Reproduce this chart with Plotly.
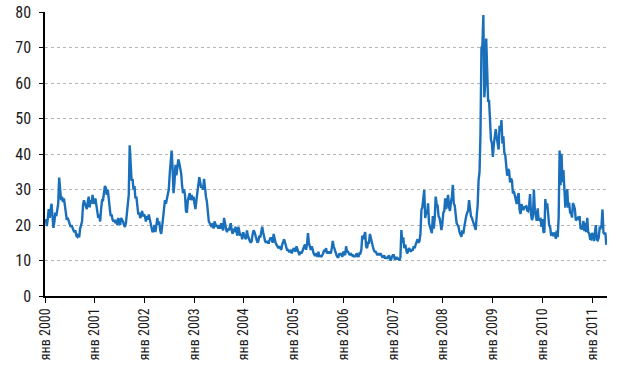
import pandas as pd
import plotly.graph_objects as go

# Weekly index values (Friday closes)
v2000 = [21.7, 19.7, 21.5, 24.5,
         22.0, 24.8, 26.0, 22.5,
         19.2, 21.0, 23.5, 22.5, 24.5,
         26.0, 33.4, 30.5, 27.0,
         28.0, 26.5, 27.5, 25.0,
         23.0, 21.5, 22.0, 21.0, 20.5,
         19.5, 20.0, 19.0, 18.5,
         18.0, 18.5, 17.0, 16.7,
         17.5, 16.5, 19.0, 20.5,
         21.0, 25.5, 27.0, 26.0, 25.0,
         24.5, 26.5, 28.0, 25.0,
         27.0, 26.0, 28.5, 26.5, 26.0]
v2001 = [27.5, 26.0, 23.5, 22.0,
         23.0, 21.0, 24.5, 27.0,
         27.0, 29.0, 31.0, 30.5, 28.5,
         30.0, 26.0, 25.0, 22.5,
         23.0, 21.5, 21.0, 21.5,
         20.5, 21.5, 20.0, 22.0, 21.0,
         20.0, 22.0, 21.5, 21.0,
         20.0, 19.5, 20.5, 23.0, 25.0,
         28.5, 42.5, 34.5,
         32.5, 33.0, 30.0, 31.0, 27.5,
         28.0, 25.0, 23.0, 23.5,
         22.0, 22.5, 24.0, 22.5, 23.0]
v2002 = [22.5, 21.0, 22.5, 21.5,
         23.0, 21.5, 20.0, 19.0,
         18.0, 18.5, 20.0, 18.0, 19.5,
         22.0, 20.0, 21.0, 18.5,
         17.5, 19.5, 22.0, 25.0, 27.0,
         26.0, 27.5, 28.0, 30.0,
         34.5, 37.0, 41.0, 36.0,
         29.0, 32.0, 37.0, 34.0, 36.0,
         38.5, 37.5, 36.0, 34.5,
         31.0, 29.0, 30.0, 28.5,
         24.0, 23.5, 27.0, 28.0, 29.0,
         27.0, 28.5, 27.0, 28.0]
v2003 = [26.0, 24.5, 27.0, 29.0, 31.0,
         33.5, 32.0, 30.5, 31.0,
         30.0, 33.0, 29.5, 28.0,
         26.5, 22.0, 21.0, 20.5,
         20.0, 19.5, 20.5, 19.0, 21.0,
         20.0, 19.5, 20.0, 19.0,
         20.0, 19.0, 20.5, 19.5,
         18.5, 22.0, 20.0, 19.0, 18.0,
         19.0, 18.5, 19.5, 20.5,
         18.5, 17.5, 19.0, 18.0, 19.5,
         18.0, 17.0, 19.5, 17.5,
         17.0, 17.5, 16.0, 18.0]
v2004 = [17.0, 16.5, 16.0, 18.5, 17.0,
         16.0, 15.5, 15.0, 15.5,
         17.5, 18.5, 18.0, 17.0,
         16.5, 15.0, 15.5, 17.0, 16.5,
         18.5, 19.5, 18.0, 16.0,
         15.5, 15.0, 15.5, 15.0,
         15.0, 16.0, 16.5, 16.0, 15.0,
         17.5, 16.0, 15.0, 14.5,
         14.0, 13.5, 14.0, 13.5,
         13.0, 14.5, 15.5, 16.0, 15.0,
         13.5, 13.0, 13.0, 12.5,
         12.5, 13.0, 12.0, 13.0, 13.5]
v2005 = [13.0, 12.5, 14.0, 13.0,
         12.0, 11.5, 12.5, 12.0,
         12.5, 13.5, 14.0, 14.5,
         13.0, 14.5, 17.7, 15.0, 14.0,
         13.0, 14.0, 12.5, 12.0,
         11.5, 11.5, 12.0, 11.0,
         12.5, 11.0, 11.5, 11.0, 11.5,
         12.0, 13.0, 12.5, 13.5,
         12.0, 12.5, 12.0, 12.5, 12.0,
         13.5, 15.5, 14.0, 13.0,
         12.5, 11.5, 11.0, 11.0,
         12.0, 11.5, 12.0, 11.0, 12.5]
v2006 = [12.0, 11.5, 14.0, 12.5,
         12.5, 12.0, 11.5, 12.0,
         11.5, 11.5, 11.0, 11.5, 11.0,
         12.0, 11.5, 11.0, 12.0,
         12.0, 13.0, 17.0, 16.0,
         17.0, 18.0, 14.0, 13.5, 15.0,
         15.0, 17.5, 16.0, 14.5,
         14.0, 13.0, 12.5, 12.5,
         12.0, 11.5, 12.0, 11.5, 12.0,
         11.5, 11.0, 11.0, 11.5,
         10.5, 11.0, 10.5, 11.0,
         11.5, 10.5, 10.0, 11.0, 11.5]
v2007 = [11.5, 10.5, 10.5, 11.0,
         10.5, 10.5, 10.0, 11.0,
         18.6, 15.0, 16.5, 13.5, 14.5,
         12.5, 12.0, 12.5, 13.5,
         13.0, 12.5, 13.0, 13.0,
         14.0, 13.5, 14.5, 15.5, 16.0,
         15.0, 15.5, 17.5, 24.2,
         25.0, 28.0, 29.9, 22.0, 23.5,
         23.0, 26.1, 20.5, 19.5,
         18.5, 17.7, 22.5, 19.0,
         22.0, 28.0, 26.0, 25.5, 22.5,
         22.0, 20.5, 18.6, 20.5]
v2008 = [23.5, 24.0, 27.5, 24.5,
         26.0, 28.5, 25.0, 24.0, 26.5,
         28.0, 31.3, 26.0, 25.5,
         22.5, 20.5, 20.0, 19.5,
         18.0, 17.5, 16.7, 18.5, 17.5,
         19.5, 21.5, 22.5, 23.5,
         24.0, 27.0, 24.0, 22.5,
         22.0, 21.0, 20.5, 19.0, 18.6,
         22.5, 25.5, 32.7, 35.0,
         46.0, 70.0, 70.5, 79.2, 56.0,
         60.0, 72.6, 66.0, 55.0,
         55.0, 48.0, 44.0, 43.0]
v2009 = [39.2, 42.8, 46.1, 47.0, 44.8,
         43.0, 41.3, 48.0, 46.4,
         49.6, 43.0, 45.0, 40.4,
         39.7, 37.0, 33.9, 35.8,
         35.3, 32.0, 33.1, 32.6, 28.9,
         29.6, 28.2, 27.0, 25.9,
         27.9, 29.0, 24.3, 23.1, 25.9,
         25.3, 24.2, 25.0, 25.3,
         25.3, 24.1, 23.9, 25.6,
         28.7, 23.1, 21.4, 22.3, 30.0,
         24.2, 22.7, 21.2, 24.7,
         21.3, 21.6, 21.7, 19.5]
v2010 = [21.7, 18.1, 17.9, 27.3, 24.6,
         26.1, 22.7, 20.0, 19.5,
         17.4, 17.6, 16.9, 17.8,
         17.5, 16.1, 18.4, 16.6, 22.1,
         41.0, 31.2, 40.1, 32.1,
         35.5, 28.8, 24.9, 28.5,
         30.1, 24.9, 26.3, 23.5, 23.5,
         22.1, 26.2, 25.5, 24.5,
         21.3, 21.9, 22.0, 21.7,
         22.5, 18.9, 19.1, 19.0, 21.2,
         18.3, 20.6, 18.0, 22.0,
         18.0, 17.6, 16.1, 16.0, 17.8]
v2011 = [17.1, 15.5, 18.5, 20.0,
         15.9, 15.7, 16.4, 19.2,
         19.1, 20.1, 24.4, 17.9,
         17.4, 17.9, 14.4]

values = v2000 + v2001 + v2002 + v2003 + v2004 + v2005 + v2006 + v2007 + v2008 + v2009 + v2010 + v2011
dates = pd.date_range("2000-01-07", periods=len(values), freq="W-FRI")

years = list(range(2000, 2012))
tick_vals = [f"{y}-01-01" for y in years]
tick_text = [f"янв {y}" for y in years]
y_ticks = [0, 10, 20, 30, 40, 50, 60, 70, 80]

FONT = "Roboto Condensed, DejaVu Sans Condensed, sans-serif"

fig = go.Figure()
fig.add_trace(go.Scatter(
    x=dates, y=values, mode="lines",
    line=dict(color="#1a6fba", width=2.4),
    showlegend=False, hoverinfo="skip",
))

fig.update_layout(
    width=629, height=370,
    margin=dict(l=45, r=22, t=12, b=74, autoexpand=False),
    paper_bgcolor="white", plot_bgcolor="white",
    font=dict(family=FONT, size=14, color="#1a1a1a"),
)
fig.update_xaxes(
    type="date",
    range=["2000-01-01", "2011-04-20"],
    tickvals=tick_vals, ticktext=tick_text,
    tickangle=-90,
    ticks="outside", ticklen=5, tickcolor="black", tickwidth=1,
    showline=True, linecolor="black", linewidth=1.5,
    showgrid=False, zeroline=False, automargin=False,
    ticklabelstandoff=0,
    tickfont=dict(family=FONT, size=14, color="#1a1a1a"),
)
fig.update_yaxes(
    range=[0, 80.05],
    tickvals=y_ticks,
    ticks="outside", ticklen=4, tickcolor="black", tickwidth=1,
    showline=True, linecolor="black", linewidth=1.5,
    showgrid=True, gridcolor="#b5b5b5", gridwidth=1, griddash="dot",
    zeroline=False, automargin=False,
    ticklabelstandoff=5, ticklabeloverflow="allow",
    tickfont=dict(family=FONT, size=16, color="#1a1a1a"),
)

fig.write_html("out.html", config={"displayModeBar": False},
               post_script="document.body.style.margin='0';")
